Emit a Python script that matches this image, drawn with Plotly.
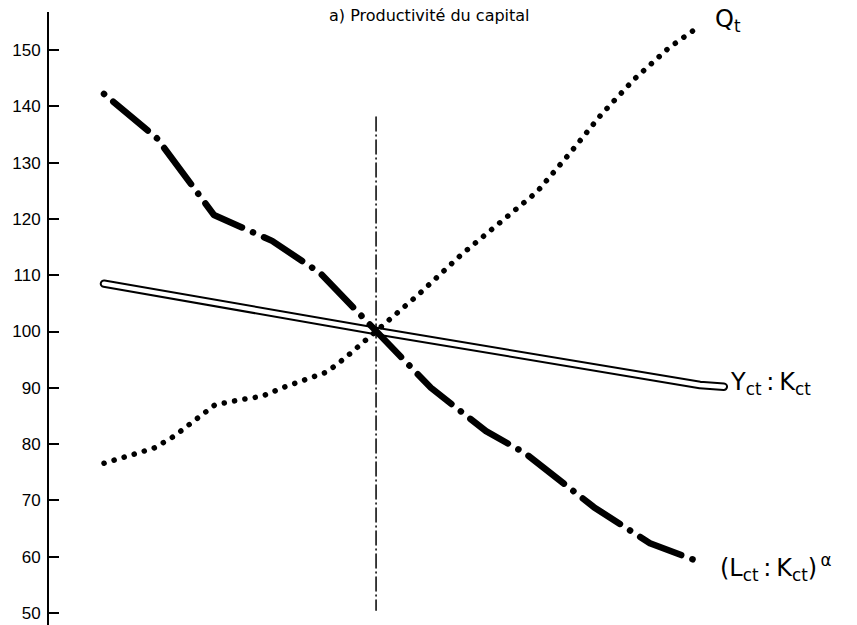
import plotly.graph_objects as go

# Horizontal position t (years from start of period), base period at t_base
t_base = 9.13
base_span = [138.1, 50.5]

# Q_t
q_t = [0.0, 0.97, 1.68, 2.35, 3.05, 3.39, 3.72, 4.50, 5.30, 6.04, 6.74, 7.48, 8.09, 8.72,
       9.13, 10.54, 11.98, 13.26, 14.53, 15.64, 16.68, 17.79, 18.96, 20.0]
q_val = [76.6, 78.1, 79.3, 81.4, 84.3, 85.5, 86.95, 87.8, 88.5, 90.1, 91.4, 92.8, 95.3, 98.1,
         100.0, 106.5, 113.6, 119.3, 124.8, 131.7, 138.5, 144.8, 150.4, 154.3]

# (L_ct : K_ct)^alpha
lk_t = [0.0, 1.78, 3.69, 5.64, 7.25, 9.13, 10.97, 12.82, 14.13, 16.44, 18.32, 20.07]
lk_val = [142.2, 134.3, 120.7, 116.1, 110.4, 100.0, 90.0, 82.3, 78.4, 68.8, 62.4, 58.9]

# Y_ct : K_ct
yk_t = [0.0, 9.13, 20.0, 20.8]
yk_val = [108.5, 100.1, 90.5, 90.2]

y_ticks = [50, 60, 70, 80, 90, 100, 110, 120, 130, 140, 150]

fig = go.Figure()

# base-period marker
fig.add_trace(go.Scatter(x=[t_base, t_base], y=base_span, mode="lines",
                         line=dict(color="black", width=1.5, dash="14px,4px,1px,4px"),
                         hoverinfo="skip"))

# double line: black stroke with a white core
fig.add_trace(go.Scatter(x=yk_t, y=yk_val, mode="lines",
                         line=dict(color="black", width=8.5), hoverinfo="skip"))
fig.add_trace(go.Scatter(x=yk_t, y=yk_val, mode="lines",
                         line=dict(color="white", width=4.5), hoverinfo="skip"))

fig.add_trace(go.Scatter(x=q_t, y=q_val, mode="lines",
                         line=dict(color="black", width=5.5, dash="0.1px,10.4px"),
                         hoverinfo="skip"))

fig.add_trace(go.Scatter(x=lk_t, y=lk_val, mode="lines",
                         line=dict(color="black", width=6.5, dash="0.1px,12px,45px,12px"),
                         hoverinfo="skip"))

label_font = dict(family="DejaVu Sans, sans-serif", size=24, color="black")
fig.add_annotation(x=20.45, y=155.3, text="Q<sub>t</sub>", showarrow=False,
                   xanchor="left", yanchor="middle", font=label_font)
fig.add_annotation(x=20.95, y=90.8, text="Y<sub>ct</sub>\u2009:\u2009K<sub>ct</sub>",
                   showarrow=False, xanchor="left", yanchor="middle", font=label_font)
fig.add_annotation(x=20.6, y=58.0,
                   text="(L<sub>ct</sub>\u2009:\u2009K<sub>ct</sub>)<sup>\u2009α</sup>",
                   showarrow=False, xanchor="left", yanchor="middle", font=label_font)

fig.add_annotation(x=0.4715, y=0.9935, xref="paper", yref="paper",
                   text="a) Productivité du capital", showarrow=False,
                   xanchor="center", yanchor="middle",
                   font=dict(family="DejaVu Sans, sans-serif", size=16, color="black"))

fig.update_layout(
    width=857, height=625,
    margin=dict(l=49, r=0, t=12, b=0),
    paper_bgcolor="white", plot_bgcolor="white",
    showlegend=False,
    xaxis=dict(range=[-1.846, 25.27], visible=False),
    yaxis=dict(range=[47.87, 156.75], tickvals=y_ticks, ticks="inside", ticklen=10,
               tickwidth=2, tickcolor="black", showline=True, linewidth=2, linecolor="black",
               showgrid=False, zeroline=False, ticklabelstandoff=3,
               tickfont=dict(family="Liberation Sans, Arial, sans-serif", size=17, color="black")),
)

round_caps = """
var s = document.createElement('style');
s.textContent = '.js-line { stroke-linecap: round; stroke-linejoin: round; }';
document.head.appendChild(s);
"""
fig.write_html("out.html", post_script=round_caps)
